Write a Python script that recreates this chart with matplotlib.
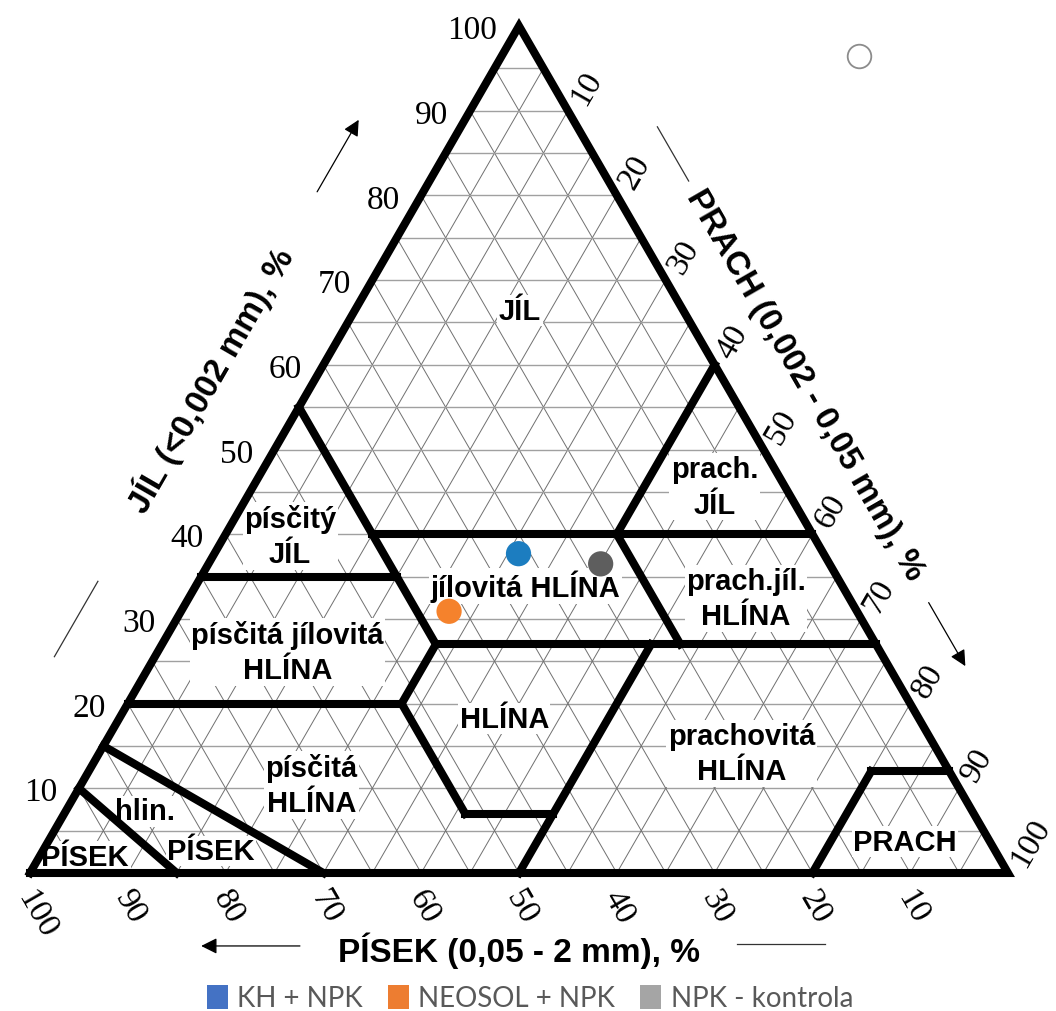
import numpy as np
import matplotlib
matplotlib.use("Agg")
import matplotlib.pyplot as plt
from matplotlib.patches import Patch

# samples (sand, silt, clay in %)
sample_names = ["KH + NPK", "NEOSOL + NPK", "NPK - kontrola"]
sand = [31.2, 41.7, 23.4]
silt = [31.1, 27.4, 40.1]
clay = [37.7, 30.9, 36.5]
point_colors = ["#1c7dc0", "#f5822c", "#5e5e5e"]
legend_colors = ["#4472c4", "#ed7d31", "#a5a5a5"]

# texture class boundaries, each end given as (sand, silt, clay)
boundaries = [
    [(45, 0, 55), (45, 28, 27)],
    [(45, 15, 40), (0, 60, 40)],
    [(0, 40, 60), (20, 40, 40)],
    [(20, 40, 40), (20, 53, 27)],
    [(65, 0, 35), (45, 20, 35)],
    [(80, 0, 20), (52, 28, 20)],
    [(45, 28, 27), (0, 73, 27)],
    [(45, 28, 27), (52, 28, 20)],
    [(52, 28, 20), (52, 41, 7)],
    [(52, 41, 7), (43, 50, 7)],
    [(23, 50, 27), (50, 50, 0)],
    [(85, 0, 15), (70, 30, 0)],
    [(90, 0, 10), (85, 15, 0)],
    [(0, 88, 12), (8, 80, 12)],
    [(8, 80, 12), (20, 80, 0)],
]

# class names and where they sit (sand, silt, clay)
class_names = ["JÍL", "písčitý\nJÍL", "písčitá jílovitá\nHLÍNA", "písčitá\nHLÍNA",
               "hlin.", "PÍSEK", "PÍSEK", "jílovitá HLÍNA", "HLÍNA",
               "prach.\nJÍL", "prach.jíl.\nHLÍNA", "prachovitá\nHLÍNA", "PRACH"]
class_pos = [(16.7, 16.9, 66.4), (53.5, 6.7, 39.8), (60.6, 13.3, 26.1), (66.0, 23.6, 10.4),
             (84.6, 8.1, 7.3), (93.4, 4.7, 1.9), (80.2, 17.2, 2.6), (32.4, 33.7, 33.9),
             (42.4, 39.4, 18.2), (7.2, 47.2, 45.6), (10.6, 57.0, 32.4), (20.2, 65.7, 14.1),
             (8.7, 87.6, 3.7)]

ticks = list(range(10, 101, 10))

R3 = np.sqrt(3) / 2


def tern(sa, si, cl):
    sa, si, cl = (np.asarray(v, dtype=float) / 100 for v in (sa, si, cl))
    return si + cl / 2, cl * R3


fig = plt.figure(figsize=(10.56, 10.12), dpi=100)
ax = fig.add_axes([0, 0, 1, 1])
ax.set_xlim(-30 / 978, 1026 / 978)
ax.set_ylim(-138 / 978, 874 / 978)
ax.axis("off")

# 5 % grid in all three directions
for v in range(5, 100, 5):
    x, y = tern([100 - v, 0], [0, 100 - v], [v, v])
    ax.plot(x, y, color="#a0a0a0", lw=1.0, zorder=1)
    x, y = tern([100 - v, 0], [v, v], [0, 100 - v])
    ax.plot(x, y, color="#707070", lw=0.7, zorder=1)
    x, y = tern([v, v], [100 - v, 0], [0, 100 - v])
    ax.plot(x, y, color="#707070", lw=0.7, zorder=1)

# class boundaries and outer triangle
for a, b in boundaries:
    x, y = tern(*zip(a, b))
    ax.plot(x, y, color="black", lw=5.8, solid_capstyle="projecting", zorder=3)
x, y = tern([100, 0, 0, 100], [0, 100, 0, 0], [0, 0, 100, 0])
ax.plot(x, y, color="black", lw=5.8, solid_joinstyle="miter", zorder=4)

for name, (a, b, c) in zip(class_names, class_pos):
    x, y = tern(a, b, c)
    ax.text(x, y, name, ha="center", va="center", fontsize=21, fontweight="bold",
            family="Liberation Sans", linespacing=1.35, zorder=2,
            bbox=dict(facecolor="white", edgecolor="none", pad=1.0))

# tick labels
tick_font = dict(fontsize=24, family="Liberation Serif")
for v in ticks:
    x, y = tern(100 - v, 0, v)
    ax.text(x - 0.022, y - 0.004, str(v), ha="right", va="center", **tick_font)
    x, y = tern(0, v, 100 - v)
    ax.text(x + 0.013 * 0.5 + 0.004 * R3, y + 0.013 * R3 - 0.002, str(v), rotation=60,
            rotation_mode="anchor", ha="left", va="center", **tick_font)
    x, y = tern(v, 100 - v, 0)
    ax.text(x - 0.006, y - 0.019, str(v), rotation=-60, rotation_mode="anchor",
            ha="left", va="center", **tick_font)

# axis titles
title_font = dict(fontsize=24, fontweight="bold", family="Liberation Sans",
                  ha="center", va="center")
x, y = tern(47.1, 0, 52.9)
ax.text(x - 0.093 * R3, y + 0.093 * 0.5, "JÍL (<0,002 mm), %", rotation=60, **title_font)
x, y = tern(0, 46.3, 53.7)
ax.text(x + 0.070 * R3, y + 0.070 * 0.5, "PRACH (0,002 - 0,05 mm), %", rotation=-60, **title_font)
ax.text(0.5, -0.078, "PÍSEK (0,05 - 2 mm), %", **title_font)


def side_mark(p0, p1, arrow):
    if arrow:
        ax.annotate("", xy=p1, xytext=p0,
                    arrowprops=dict(arrowstyle="-|>", color="black", lw=0.9,
                                    mutation_scale=24, shrinkA=0, shrinkB=0))
    else:
        ax.plot([p0[0], p1[0]], [p0[1], p1[1]], color="#333333", lw=0.9)


# direction arrows beside the titles
def off_left(cl, d):
    x, y = tern(100 - cl, 0, cl)
    return (x - d * R3, y + d * 0.5)


def off_right(si, d):
    x, y = tern(0, si, 100 - si)
    return (x + d * R3, y + d * 0.5)


side_mark(off_left(20.4, 0.089), off_left(29.3, 0.089), False)
side_mark(off_left(75.0, 0.094), off_left(83.5, 0.094), True)
side_mark(off_right(16.0, 0.071), off_right(22.4, 0.071), False)
side_mark(off_right(72.0, 0.068), off_right(79.5, 0.068), True)
side_mark((tern(72.4, 27.6, 0)[0], -0.0746), (tern(82.5, 17.5, 0)[0], -0.0746), True)
side_mark((tern(27.7, 72.3, 0)[0], -0.0725), (tern(18.7, 81.3, 0)[0], -0.0725), False)

# samples
px, py = tern(sand, silt, clay)
ax.scatter(px, py, s=330, c=point_colors, edgecolors="none", zorder=6)

# stray empty marker in the corner
ax.plot([0.8476], [0.835], marker="o", ms=17, mfc="white", mec="#8c8c8c", mew=1.3)

handles = [Patch(facecolor=c, edgecolor="none", label=n)
           for c, n in zip(legend_colors, sample_names)]
fig.legend(handles=handles, loc="center", bbox_to_anchor=(530 / 1056, 1 - 999 / 1012),
           ncol=3, frameon=False, handlelength=0.75, handleheight=1.0,
           handletextpad=0.35, columnspacing=0.9, labelcolor="#595959",
           prop=dict(family="Lato", size=20))

fig.savefig("out.png", dpi=100)
